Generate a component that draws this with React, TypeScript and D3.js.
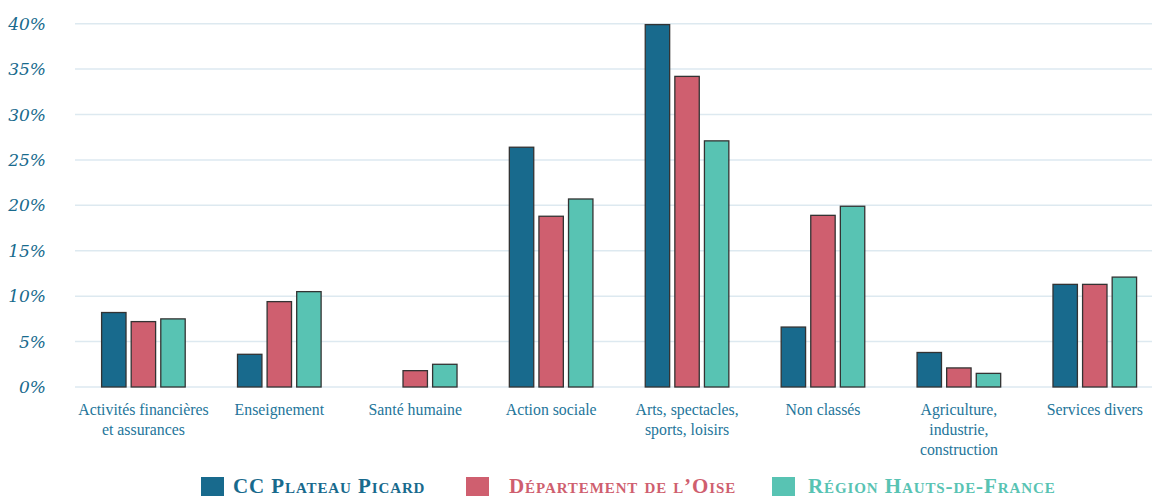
import * as d3 from "d3";
import { useEffect, useRef } from "react";

const categories = [
  ["Activités financières", "et assurances"],
  ["Enseignement"],
  ["Santé humaine"],
  ["Action sociale"],
  ["Arts, spectacles,", "sports, loisirs"],
  ["Non classés"],
  ["Agriculture,", "industrie,", "construction"],
  ["Services divers"],
];

const seriesNames = ["CC Plateau Picard", "Département de l’Oise", "Région Hauts-de-France"];
const seriesColors = ["#186a8d", "#cf5f6f", "#58c3b3"];

const plateauPicard = [8.2, 3.6, 0, 26.4, 39.9, 6.6, 3.8, 11.3];
const oise = [7.2, 9.4, 1.8, 18.8, 34.2, 18.9, 2.1, 11.3];
const hautsDeFrance = [7.5, 10.5, 2.5, 20.7, 27.1, 19.9, 1.5, 12.1];

const yTicks = [0, 5, 10, 15, 20, 25, 30, 35, 40];

export default function App() {
  const svgRef = useRef<SVGSVGElement>(null);

  useEffect(() => {
    if (!svgRef.current) return;
    const width = 1152;
    const height = 497;
    const svg = d3.select<SVGSVGElement, unknown>(svgRef.current);
    svg.selectAll("*").remove();
    svg.attr("width", width).attr("height", height);

    svg.append("rect").attr("width", width).attr("height", height).attr("fill", "#ffffff");

    const series = [plateauPicard, oise, hautsDeFrance];
    const keys = categories.map((c) => c.join(" "));

    const x = d3.scaleBand<string>().domain(keys).range([75.5, 1162.8]).padding(0);
    const inner = d3
      .scaleBand<number>()
      .domain([0, 1, 2])
      .range([26.1, 26.1 + 83.6])
      .paddingInner(0.175)
      .paddingOuter(0);
    const y = d3.scaleLinear().domain([0, 40]).range([387, 23.7]);

    // gridlines
    svg
      .append("g")
      .selectAll("line")
      .data(yTicks)
      .enter()
      .append("line")
      .attr("x1", 75)
      .attr("x2", width)
      .attr("y1", (d) => y(d))
      .attr("y2", (d) => y(d))
      .attr("stroke", "#dde9f0")
      .attr("stroke-width", 1.5);

    // y labels
    svg
      .append("g")
      .selectAll("text")
      .data(yTicks)
      .enter()
      .append("text")
      .attr("x", 46)
      .attr("y", (d) => y(d) + 6)
      .attr("text-anchor", "end")
      .attr("fill", "#186a8d")
      .attr("font-family", "'DejaVu Serif', serif")
      .attr("font-style", "italic")
      .attr("font-size", "17px")
      .text((d) => `${d}%`);

    // bars
    const groups = svg
      .append("g")
      .selectAll("g")
      .data(keys)
      .enter()
      .append("g")
      .attr("transform", (d) => `translate(${x(d)},0)`);

    groups
      .selectAll("rect")
      .data((_, i) => series.map((s, si) => ({ si, v: s[i] })).filter((d) => d.v > 0))
      .enter()
      .append("rect")
      .attr("x", (d) => inner(d.si)!)
      .attr("width", inner.bandwidth())
      .attr("y", (d) => y(d.v))
      .attr("height", (d) => y(0) - y(d.v))
      .attr("fill", (d) => seriesColors[d.si])
      .attr("stroke", "#333")
      .attr("stroke-width", 1.3);

    // x labels
    const labels = svg
      .append("g")
      .selectAll("text")
      .data(categories)
      .enter()
      .append("text")
      .attr("x", (_, i) => x(keys[i])! + x.bandwidth() / 2)
      .attr("y", 415)
      .attr("text-anchor", "middle")
      .attr("fill", "#23759a")
      .attr("font-family", "'Liberation Serif', serif")
      .attr("font-size", "15.8px");
    labels
      .selectAll("tspan")
      .data((d) => d)
      .enter()
      .append("tspan")
      .attr("x", function () {
        return (this as SVGTSpanElement).parentElement!.getAttribute("x");
      })
      .attr("dy", (_, i) => (i === 0 ? 0 : 20))
      .text((d) => d);

    // legend
    const legendX = [201, 466, 772];
    const legend = svg
      .append("g")
      .selectAll("g")
      .data(seriesNames)
      .enter()
      .append("g")
      .attr("transform", (_, i) => `translate(${legendX[i]},477)`);
    legend
      .append("rect")
      .attr("width", 23)
      .attr("height", 19)
      .attr("fill", (_, i) => seriesColors[i]);
    legend
      .append("text")
      .attr("x", (_, i) => (i === 0 ? 32 : i === 1 ? 43 : 36))
      .attr("y", 15.5)
      .attr("fill", (_, i) => seriesColors[i])
      .attr("font-family", "'Liberation Serif', serif")
      .attr("font-weight", "bold")
      .attr("font-variant", "small-caps")
      .attr("font-size", "21px")
      .attr("letter-spacing", "0.9px")
      .text((d) => d);
  }, []);

  return (
    <svg
      ref={svgRef}
      style={{ position: "absolute", left: 0, top: 0, display: "block" }}
    ></svg>
  );
}
